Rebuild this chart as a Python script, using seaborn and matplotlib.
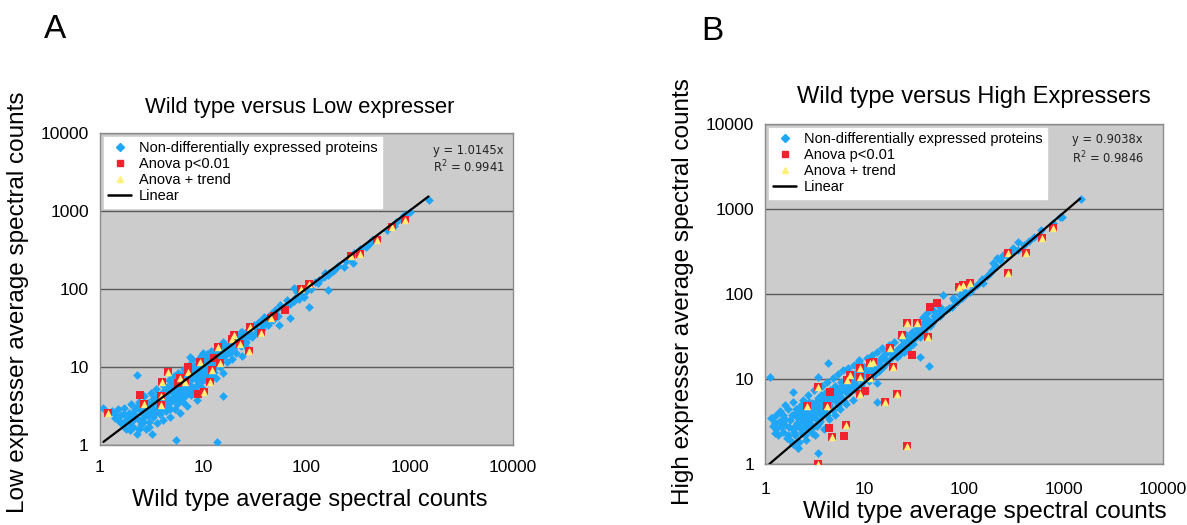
import matplotlib
matplotlib.use('Agg')
import matplotlib.pyplot as plt
import matplotlib.ticker as mticker
from matplotlib.lines import Line2D
import seaborn as sns
import numpy as np

# ---------------- data ----------------
# panel A: wild type (x) vs low expresser (y)
a_blue = [
    (1550, 1400), (1000, 960), (881, 889), (900, 870), (820, 800), (731, 730), (700, 650), (600, 580),
    (480, 450), (430, 420), (403, 374), (380, 350), (330, 330), (300, 290), (288, 292), (284, 213),
    (270, 250), (240, 230), (230, 193), (200, 200), (184, 175), (180, 170), (165, 159), (160, 150),
    (161, 97), (150, 160), (147, 144), (132, 130), (130, 120), (120, 125), (110, 100), (105, 59),
    (100, 95), (94, 88), (90, 90), (95, 80), (85, 75), (81, 92), (80, 78), (75, 102), (75, 70),
    (70, 65), (70, 43), (65, 72), (65, 62), (60, 55), (56, 62), (55, 60), (54, 35), (50, 52),
    (48, 45), (45, 40), (42, 42), (40, 38), (38.5, 44), (38, 35), (36, 38), (36, 30), (35, 38),
    (33, 30), (31, 34.5), (30, 32), (30, 26), (28, 25), (27, 30), (25, 24), (25, 20), (24, 28),
    (23, 28), (22, 20), (22, 24), (20, 18), (20, 22), (19, 25), (18, 17), (18, 20), (17, 15),
    (16, 18), (16, 14), (15.7, 21), (15, 16), (15, 13), (14, 17), (14, 12), (13, 14), (13, 11),
    (12, 13), (12, 10), (12, 16), (11, 12), (11, 9), (11, 14), (10, 10), (10, 8), (10, 12), (10, 15),
    (7.5, 13.6),
    # outliers
    (13.6, 1.1), (5.5, 1.16), (15.7, 4.2), (2.27, 7.9), (1.08, 2.95), (1.95, 1.56),
    # dense low cluster
    (1.3, 2.7), (1.4, 2.2), (1.5, 2.9), (1.6, 2.4), (1.6, 1.9), (1.7, 3.0), (1.8, 2.1), (1.8, 1.6),
    (1.9, 2.6), (2.0, 3.4), (2.0, 2.0), (2.1, 1.7), (2.2, 2.9), (2.2, 2.4), (2.3, 1.4), (2.4, 3.6),
    (2.4, 2.1), (2.5, 2.7), (2.5, 1.8), (2.6, 3.1), (2.7, 2.3), (2.7, 4.2), (2.8, 1.6), (2.9, 3.5),
    (3.0, 2.6), (3.0, 2.0), (3.1, 4.6), (3.2, 3.0), (3.2, 1.4), (3.3, 2.3), (3.4, 3.8), (3.5, 2.8),
    (3.5, 5.2), (3.6, 1.9), (3.7, 3.3), (3.8, 2.5), (3.9, 4.4), (4.0, 3.0), (4.0, 6.0), (4.1, 2.1),
    (4.2, 3.7), (4.3, 5.0), (4.4, 2.7), (4.5, 4.1), (4.6, 3.2), (4.7, 6.8), (4.8, 2.3), (4.9, 5.3),
    (5.0, 3.8), (5.1, 4.6), (5.2, 7.6), (5.3, 2.9), (5.4, 5.9), (5.5, 4.2), (5.6, 3.4), (5.7, 8.5),
    (5.8, 5.0), (5.9, 6.4), (6.0, 2.6), (6.1, 4.0), (6.2, 7.2), (6.3, 5.5), (6.4, 3.6), (6.5, 9.4),
    (6.6, 6.1), (6.8, 4.7), (6.9, 8.0), (7.0, 3.2), (7.2, 5.8), (7.3, 10.5), (7.5, 6.9), (7.6, 4.4),
    (7.8, 12.5), (8.0, 8.2), (8.2, 5.3), (8.4, 9.6), (8.6, 7.0), (8.8, 3.8), (9.0, 11.2), (9.2, 6.2),
    (9.4, 8.6), (9.6, 13.8), (9.8, 5.4), (10, 9.8), (10.3, 7.4), (10.6, 11.5), (10.9, 14.5),
    (11.2, 6.4), (11.5, 9.0), (11.8, 12.4), (12.1, 8.0), (12.5, 15.8), (12.8, 10.6), (13.2, 7.3),
    (13.6, 12.7), (14, 17), (14.5, 10), (15, 13.5), (15.5, 8.4), (16, 19), (16.5, 14.5), (17, 11.5),
    (17.5, 18), (18, 15), (18.5, 22), (19, 12.5), (19.5, 17), (20, 21), (21, 15), (22, 24),
    (23, 18.5), (24, 14), (25, 26), (26, 21), (27, 17), (28, 29), (30, 24), (31, 34), (33, 27),
    (35, 38), (37, 31), (39, 43), (42, 35), (45, 48), (47, 40), (50, 54), (53, 45),
    (2.9, 2.9), (3.8, 3.9), (4.6, 4.8), (5.3, 5.6), (6.2, 6.4), (7.1, 7.4), (8.0, 7.3), (9.0, 9.4),
    (3.3, 3.9), (4.2, 4.6), (5.0, 5.3), (5.9, 6.0), (6.9, 7.0), (7.9, 8.8), (2.2, 2.2), (2.6, 2.5),
    (1.9, 1.9), (2.8, 3.0), (3.6, 3.5), (4.4, 4.0),
    (1.7, 2.5), (2.1, 2.6), (2.3, 3.1), (2.6, 2.0), (2.9, 2.4), (3.1, 3.3), (3.4, 2.6), (3.6, 4.2),
    (3.9, 3.4), (4.1, 4.8), (4.3, 3.3), (4.5, 5.5), (4.8, 3.6), (5.0, 6.2), (5.2, 4.2), (5.5, 5.0),
    (5.7, 6.8), (6.0, 4.6), (6.3, 7.9), (6.6, 5.2), (6.9, 9.1), (7.2, 6.3), (7.5, 8.2), (7.8, 5.6),
    (8.2, 10.4), (8.5, 7.8), (8.9, 12.2), (9.3, 7.4), (9.7, 10.3), (10.2, 13), (10.7, 8.7),
    (11.2, 11), (11.8, 14), (12.4, 9.4), (13, 12), (13.8, 15), (14.6, 13), (15.5, 17), (16.5, 16.5),
    (18, 19), (19.5, 20), (21, 19), (23, 22), (3.0, 1.7), (2.4, 1.6), (1.9, 2.3), (1.5, 2.1),
    (1.4, 2.5), (2.0, 1.6), (4.8, 2.9), (5.7, 3.7), (6.7, 4.2), (7.7, 4.9), (8.8, 5.8), (10, 6.9),
    (11.5, 7.6), (12.8, 8.7),
]
a_red = [(62.5, 54), (49, 45.5), (12.6, 12.9), (7.2, 10.1), (5.76, 6.2), (9.0, 4.5), (2.45, 4.4)]
a_trend = [
    (893, 767), (680, 617), (485, 425), (330, 281), (267, 267), (105, 115), (89, 99), (45, 43),
    (28.6, 33), (36, 27), (19.7, 25.7), (19, 23), (22.9, 20), (28, 16), (14, 18.2), (14.6, 11.1),
    (9.35, 11.7), (7.2, 8.7), (4.6, 8.7), (6.0, 7.2), (4.0, 6.5), (6.7, 6.5), (11.7, 6.4),
    (12.1, 9.1), (10.1, 4.8), (3.9, 4.2), (3.9, 3.26), (2.67, 3.4), (1.2, 2.6),
]
a_slope, a_r2 = 1.0145, 0.9941
a_line_x = [1.08, 1520]

# panel B: wild type (x) vs high expressers (y)
b_blue = [
    (1500, 1300), (959, 813), (930, 800), (790, 678), (600, 560), (500, 470), (450, 420), (400, 380),
    (352, 413), (350, 330), (313, 344), (300, 300), (270, 280), (249, 288), (230, 250), (213, 263),
    (210, 215), (197, 229), (190, 190), (182, 175), (170, 165), (156, 134), (150, 150), (140, 135),
    (134, 128), (125, 120), (115, 105), (105, 100), (102, 106), (95, 90), (91, 97), (85, 80),
    (80, 85), (78, 89), (75, 70), (70, 68), (66, 64), (62, 97), (60, 62), (58, 55), (57, 71),
    (54, 58), (50, 50), (49, 65), (48, 46), (45, 47), (42, 59), (42, 42), (40, 44), (39, 54),
    (38, 36), (36, 38), (36, 31.5), (34, 35), (32, 33), (31, 26), (30, 31), (28, 27), (26.5, 22),
    (26, 27), (24, 24), (22, 23), (21, 18.3), (20, 20), (36, 18.3),
    # outliers
    (44.5, 14.2), (4.3, 15.3), (8.7, 16.7), (13.3, 5.4), (13.3, 8.9), (3.4, 10.6), (1.93, 7.1),
    (1.12, 10.6), (1.17, 3.45), (2.16, 1.53), (3.44, 1.33),
    # dense low cluster
    (1.15, 3.5), (1.25, 3.0), (1.3, 2.6), (1.4, 3.2), (1.5, 2.4), (1.5, 3.8), (1.6, 2.9), (1.7, 2.2),
    (1.7, 4.4), (1.8, 3.3), (1.8, 1.9), (1.9, 2.6), (1.9, 5.3), (2.0, 3.9), (2.0, 2.2), (2.1, 3.0),
    (2.2, 4.6), (2.2, 1.8), (2.3, 2.6), (2.3, 3.5), (2.4, 5.6), (2.5, 2.2), (2.5, 4.0), (2.6, 3.1),
    (2.7, 6.4), (2.7, 2.6), (2.8, 4.6), (2.9, 3.5), (3.0, 2.3), (3.0, 5.2), (3.1, 7.4), (3.2, 3.9),
    (3.3, 2.8), (3.4, 6.0), (3.5, 4.4), (3.6, 3.2), (3.7, 8.3), (3.8, 5.0), (3.9, 2.6), (4.0, 6.8),
    (4.1, 4.0), (4.2, 9.3), (4.3, 5.6), (4.4, 3.4), (4.5, 7.5), (4.6, 4.6), (4.8, 10.4), (4.9, 6.2),
    (5.0, 3.8), (5.1, 8.3), (5.3, 5.3), (5.4, 11.5), (5.5, 7.0), (5.7, 4.4), (5.8, 9.2), (6.0, 6.0),
    (6.1, 12.8), (6.3, 7.8), (6.5, 5.1), (6.6, 10.2), (6.8, 13.5), (7.0, 6.8), (7.2, 8.8),
    (7.4, 11.4), (7.6, 5.7), (7.8, 14.5), (8.0, 9.7), (8.3, 7.5), (8.6, 12.3), (8.9, 16), (9.2, 8.5),
    (9.5, 10.8), (9.8, 13.7), (10.2, 7.2), (10.5, 17.5), (10.8, 12), (11.2, 9.5), (11.6, 15),
    (12, 19), (12.5, 11), (13, 14), (13.5, 21), (14, 12.5), (14.5, 17), (15, 23), (15.5, 14),
    (16, 19.5), (17, 16), (17.5, 25), (18, 21), (19, 18), (20, 27), (21, 22), (22, 19), (23, 30),
    (24, 25), (25, 21), (26, 33), (27, 28), (28, 24), (30, 36), (32, 30), (34, 40), (36, 34),
    (38, 44), (40, 37), (43, 49), (46, 42), (50, 55), (55, 60),
    (2.0, 2.8), (2.4, 3.2), (2.8, 3.9), (3.3, 4.4), (3.8, 4.4), (4.3, 6.2), (5.0, 6.6), (5.8, 7.2),
    (6.8, 8.2), (7.8, 9.0), (9, 11), (2.6, 4.8), (3.5, 5.5), (4.6, 5.8), (1.6, 3.4), (2.1, 3.6),
    (1.3, 3.8), (1.2, 2.8), (2.15, 1.54),
    (1.35, 2.2), (1.45, 2.8), (1.55, 3.3), (1.65, 2.0), (1.75, 2.7), (1.85, 3.8), (1.95, 2.4),
    (2.05, 4.4), (2.15, 2.9), (2.25, 3.9), (2.35, 2.3), (2.45, 4.3), (2.55, 2.8), (2.65, 3.6),
    (2.75, 5.3), (2.85, 3.0), (2.95, 4.2), (3.05, 2.7), (3.15, 4.9), (3.25, 3.4), (3.35, 5.5),
    (3.45, 3.0), (3.55, 4.0), (3.65, 6.4), (3.75, 3.7), (3.85, 5.8), (4.0, 4.8), (4.2, 3.8),
    (4.4, 5.1), (4.6, 7.0), (4.8, 4.3), (5.0, 5.6), (5.2, 7.9), (5.4, 4.9), (5.6, 6.4), (5.9, 8.6),
    (6.2, 5.5), (6.5, 7.1), (6.9, 9.6), (7.3, 7.6), (7.7, 11), (8.1, 8.2), (8.6, 10.2), (9.1, 13),
    (9.6, 9.4), (10.2, 12), (10.8, 14.5), (11.5, 11.5), (12.2, 13.5), (13, 16.5), (14, 15),
    (15, 18), (16, 17), (1.25, 2.3), (1.9, 1.7), (2.6, 1.9), (3.2, 2.2), (1.4, 4.2), (1.6, 4.9),
    (2.3, 5.0),
]
b_red = [(53, 79), (45.5, 71), (29.8, 19.2), (4.5, 7.1), (10.1, 7.2), (4.43, 2.63), (6.27, 2.13)]
b_trend = [
    (778, 593), (613, 460), (420, 306), (279, 306), (279, 175), (115, 136), (98, 128), (90, 122),
    (33.4, 45), (26.5, 45), (23.6, 33), (43.8, 31.5), (18, 23), (19.5, 14), (12.3, 16), (11.4, 15.3),
    (9.0, 13.3), (7.15, 11.1), (6.6, 9.7), (9.0, 10.6), (11.4, 10.3), (3.44, 8.1), (9.0, 6.6),
    (21, 6.7), (16.1, 5.3), (2.62, 4.8), (4.23, 4.8), (6.5, 2.88), (4.68, 2.06), (26.5, 1.63),
    (3.38, 1.0),
]
b_slope, b_r2 = 0.9038, 0.9846
b_line_x = [1.11, 1470]

ticks = [1, 10, 100, 1000, 10000]
tick_labels = ['1', '10', '100', '1000', '10000']
legend_labels = ['Non-differentially expressed proteins', 'Anova p<0.01', 'Anova + trend', 'Linear']

BLUE = '#1fa6f7'
RED = '#f0222e'
YELLOW = '#fff07a'

sns.set_style('white')
plt.rcParams['font.family'] = ['Liberation Sans', 'DejaVu Sans']
plt.rcParams['text.color'] = 'black'
plt.rcParams['xtick.color'] = 'black'
plt.rcParams['ytick.color'] = 'black'

fig = plt.figure(figsize=(11.87, 5.25), dpi=100)
axA = fig.add_axes([0.0842, 0.1524, 0.348, 0.594])
axB = fig.add_axes([0.6445, 0.1162, 0.3353, 0.6476])


def panel(ax, blue, red, trend, slope, r2, line_x, eq_xy, xpad):
    ax.set_facecolor('#cccccc')
    ax.set_xscale('log')
    ax.set_yscale('log')
    bx, by = zip(*blue)
    rx, ry = zip(*(red + trend))
    tx, ty = zip(*trend)
    sns.scatterplot(x=list(bx), y=list(by), ax=ax, marker='D', s=20, color=BLUE,
                    linewidth=0, zorder=3)
    sns.scatterplot(x=list(rx), y=list(ry), ax=ax, marker='s', s=36, color=RED,
                    linewidth=0, zorder=4)
    sns.scatterplot(x=list(tx), y=list(ty), ax=ax, marker='^', s=28, color=YELLOW,
                    linewidth=0, zorder=5)
    lx = np.array(line_x)
    sns.lineplot(x=lx, y=lx * slope, ax=ax, color='black', lw=1.6, zorder=6)
    ax.set_xlim(1, 10000)
    ax.set_ylim(1, 10000)
    ax.set_xticks(ticks)
    ax.set_xticklabels(tick_labels)
    ax.set_yticks(ticks)
    ax.set_yticklabels(tick_labels)
    ax.xaxis.set_minor_locator(mticker.NullLocator())
    ax.yaxis.set_minor_locator(mticker.NullLocator())
    ax.yaxis.grid(True, color='#5a5a5a', lw=1.0)
    ax.xaxis.grid(False)
    ax.set_axisbelow(True)
    for sp in ax.spines.values():
        sp.set_color('#8c8c8c')
        sp.set_linewidth(1.0)
    ax.tick_params(axis='both', direction='out', length=4, color='#8c8c8c', labelsize=12.5,
                   width=1, labelcolor='black')
    ax.tick_params(axis='x', pad=xpad)
    ax.tick_params(axis='y', pad=4)
    ax.set_xlabel('')
    ax.set_ylabel('')

    handles = [
        Line2D([], [], marker='D', color=BLUE, ls='', ms=4),
        Line2D([], [], marker='s', color=RED, ls='', ms=5),
        Line2D([], [], marker='^', color=YELLOW, ls='', ms=5),
        Line2D([], [], color='black', lw=1.8),
    ]
    leg = ax.legend(handles, legend_labels, loc='upper left', fontsize=10.5, frameon=True,
                    fancybox=False, facecolor='white', edgecolor='white', framealpha=1,
                    handlelength=1.6, handletextpad=0.5, labelspacing=0.14, borderpad=0.3,
                    borderaxespad=0.25)
    for t in leg.get_texts():
        t.set_color('black')
    leg.set_zorder(10)
    ax.text(eq_xy[0], eq_xy[1], f'y = {slope:.4f}x', transform=ax.transAxes, fontsize=8.3,
            family='DejaVu Sans', color='#222222', va='center', ha='left', zorder=11)
    ax.text(eq_xy[0], eq_xy[1] - 0.052, f'R$^2$ = {r2:.4f}', transform=ax.transAxes,
            fontsize=8.3, family='DejaVu Sans', color='#222222', va='center', ha='left', zorder=11)


panel(axA, a_blue, a_red, a_trend, a_slope, a_r2, a_line_x, (0.806, 0.945), 7)
panel(axB, b_blue, b_red, b_trend, b_slope, b_r2, b_line_x, (0.771, 0.953), 9)

W, H = 1187, 525
def ftext(px, py, s, **kw):
    fig.text(px / W, 1 - py / H, s, ha='center', va='center', color='black', **kw)

ftext(55, 30, 'A', fontsize=24)
ftext(712, 32, 'B', fontsize=24)
ftext(300, 107, 'Wild type versus Low expresser', fontsize=15.8)
ftext(974, 97, 'Wild type versus High Expressers', fontsize=17)
ftext(310, 500, 'Wild type average spectral counts', fontsize=17)
ftext(985, 512, 'Wild type average spectral counts', fontsize=17.5)
ftext(18, 302, 'Low expresser average spectral counts', fontsize=17.5, rotation=90)
ftext(683, 292, 'High expresser average spectral counts', fontsize=17.5, rotation=90)

fig.savefig('out.png', dpi=100, facecolor='white')
